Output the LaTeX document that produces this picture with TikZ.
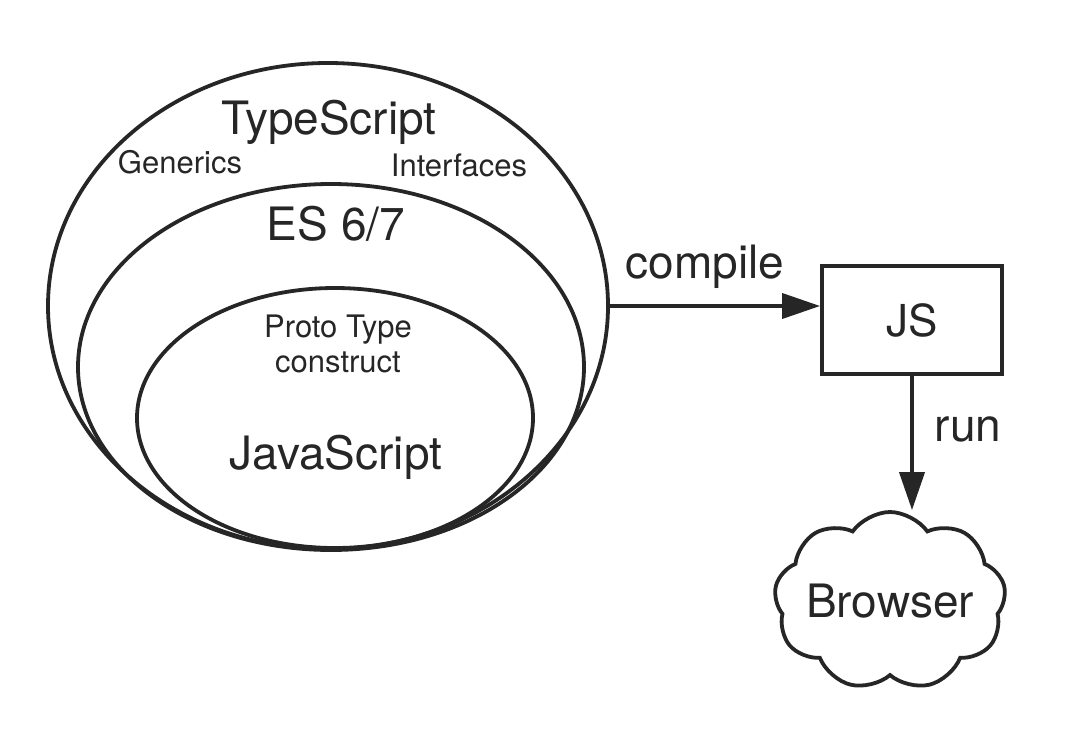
\documentclass[tikz,border=0pt]{standalone}
\usepackage{fontspec}
\setmainfont{TeX Gyre Heros}
\usetikzlibrary{arrows.meta, shapes.geometric, shapes.symbols, positioning}

\begin{document}
\begin{tikzpicture}[x=0.5pt, y=-0.5pt, >={Triangle[length=19pt, width=12.5pt]},
    line width=1.9pt, draw=black!85,
    big/.style={text=black!85, font=\fontsize{23}{27}\selectfont, inner sep=0pt, anchor=base},
    small/.style={text=black!85, font=\fontsize{15.5}{18}\selectfont, inner sep=0pt, anchor=base},
    ring/.style={draw=black!85, ellipse, inner sep=0pt}]
    \useasboundingbox (0,0) rectangle (1080,733);

    % 三层椭圆
    \node[ring, minimum width=280pt, minimum height=243pt] (ts) at (328,306) {};
    \node[ring, minimum width=253pt, minimum height=183pt] (es) at (331,367) {};
    \node[ring, minimum width=198pt, minimum height=130pt] (jsset) at (335,418) {};

    % 椭圆内的文字
    \node[big] (tslabel) at (329,134) {TypeScript};
    \node[small] (generics) at (180,173) {Generics};
    \node[small] (interfaces) at (459,176) {Interfaces};
    \node[big] (eslabel) at (336,240) {ES 6/7};
    \node[small] (proto) at (338,337) {Proto Type};
    \node[small] (construct) at (338,372) {construct};
    \node[big] (jslabel) at (336,469) {JavaScript};

    % 右侧: JS 方框和浏览器
    \node[draw=black!85, text=black!85, minimum width=90pt, minimum height=54pt,
          font=\fontsize{22}{26}\selectfont] (js) at (912,320) {JS};
    \node[draw=black!85, text=black!85, cloud, cloud puffs=9, cloud puff arc=110, cloud ignores aspect,
          minimum width=113pt, minimum height=89pt, inner sep=0pt,
          font=\fontsize{23}{27}\selectfont] (browser) at (890,601) {Browser};

    % 箭头
    \draw[->] (ts.east) -- (ts.east -| js.west);
    \node[big] (compile) at (705,278) {compile};
    \draw[->] (js.south) -- (js.south |- browser.north);
    \node[big] (run) at (968,441) {run};
\end{tikzpicture}
\end{document}
